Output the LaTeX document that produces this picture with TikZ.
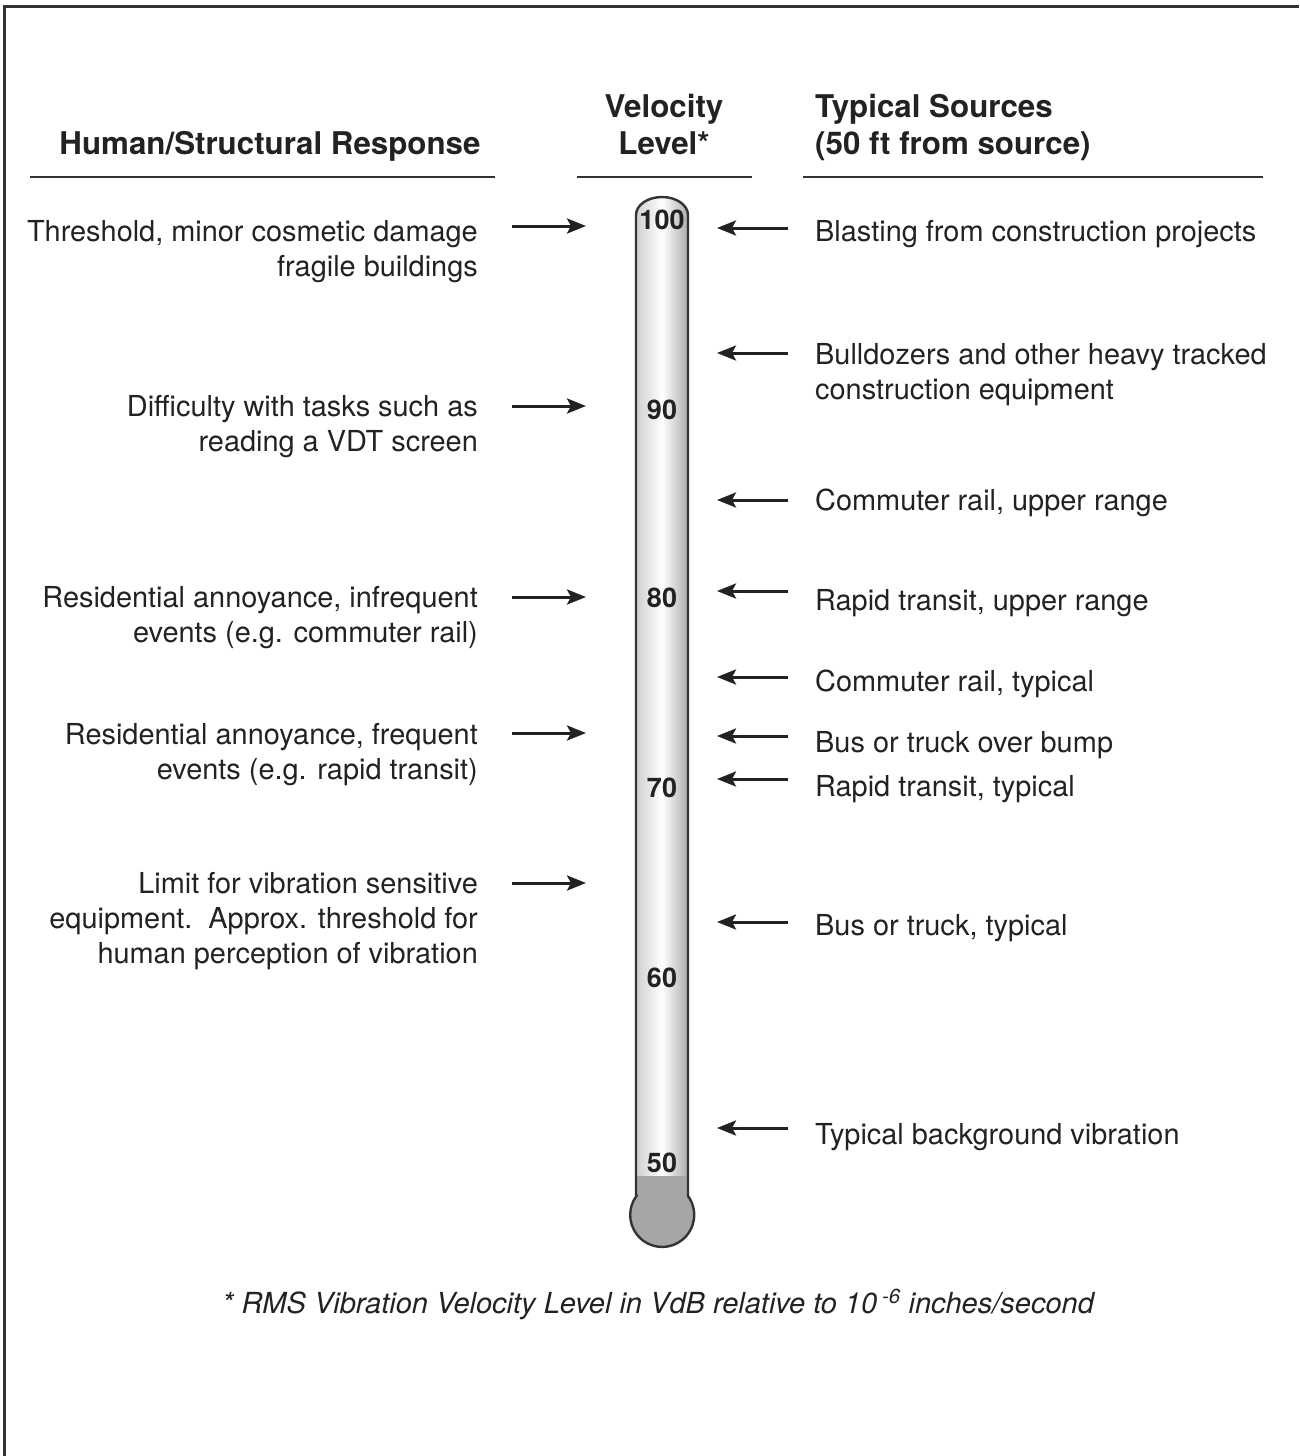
\documentclass[tikz,border=0pt]{standalone}
\usepackage{fontspec}
\setmainfont{TeX Gyre Heros}
\usetikzlibrary{arrows.meta}
\definecolor{ink}{HTML}{222222}
\definecolor{rulecol}{HTML}{333333}
\definecolor{bulbgray}{HTML}{A6A6A6}
\begin{document}
\begin{tikzpicture}[x=1pt,y=1pt,
  lbl/.style={font=\fontsize{28.9}{35}\selectfont, text=ink, inner sep=0pt},
  lefttxt/.style={lbl, align=right, anchor=north east},
  righttxt/.style={lbl, align=left, anchor=north west},
  hdr/.style={font=\fontsize{31.3}{37}\selectfont\bfseries, text=ink, inner sep=0pt},
  tick/.style={font=\fontsize{27}{30}\selectfont\bfseries, text=ink, inner sep=0pt, anchor=base},
  ptr/.style={line width=3pt, draw=ink, -{Stealth[length=19pt,width=15pt,inset=4pt]}},
  hrule/.style={line width=2.5pt, draw=rulecol},
  tubeline/.style={line width=2.4pt, draw=rulecol},
]
\useasboundingbox (0,0) rectangle (1299,-1456);

% outer frame (top and left edges)
\draw[line width=3pt, draw=rulecol] (4,-1456) -- (4,-6) -- (1299,-6);

% column headings
\node[hdr, anchor=base] (hleft) at (270,-154) {Human/Structural Response};
\node[hdr, align=center, anchor=north] (hmid) at (664,-91) {\strut Velocity\\Level*};
\node[hdr, align=left, anchor=north west] (hright) at (815,-91) {\strut Typical Sources\\(50 ft from source)};
\draw[hrule] (30,-177) -- (495,-177);
\draw[hrule] (577,-177) -- (752,-177);
\draw[hrule] (803,-177) -- (1263,-177);

% thermometer
\begin{scope}
  \clip (636,-1196) -- (636,-215) arc[start angle=180,end angle=0,x radius=26,y radius=18]
        -- (688,-1196) arc[start angle=36.2,end angle=-216.2,radius=32] -- cycle;
  \shade[left color=gray!40, right color=gray!70, middle color=white] (634,-190) rectangle (690,-1250);
  \fill[bulbgray] (620,-1176) rectangle (704,-1260);
\end{scope}
\draw[tubeline] (636,-1196) -- (636,-215) arc[start angle=180,end angle=0,x radius=26,y radius=18]
        -- (688,-1196) arc[start angle=36.2,end angle=-216.2,radius=32] -- cycle;

% scale values
\node[tick] (v100) at (662,-229) {100};
\node[tick] (v90) at (662,-419) {90};
\node[tick] (v80) at (662,-607) {80};
\node[tick] (v70) at (662,-797) {70};
\node[tick] (v60) at (662,-987) {60};
\node[tick] (v50) at (662,-1172) {50};

% human / structural responses
\node[lefttxt] (r1) at (478,-216.5) {\strut Threshold, minor cosmetic damage\\fragile buildings};
\node[lefttxt] (r2) at (478,-391.5) {\strut Difficulty with tasks such as\\reading a VDT screen};
\node[lefttxt] (r3) at (478,-582.5) {\strut Residential annoyance, infrequent\\events (e.g. commuter rail)};
\node[lefttxt] (r4) at (478,-719.5) {\strut Residential annoyance, frequent\\events (e.g. rapid transit)};
\node[lefttxt] (r5) at (478,-868.5) {\strut Limit for vibration sensitive\\equipment.\ \ Approx. threshold for\\human perception of vibration};

\coordinate (r1s) at (512,-226); \coordinate (r1e) at (586,-226);
\coordinate (r2s) at (512,-406); \coordinate (r2e) at (586,-406);
\coordinate (r3s) at (512,-597); \coordinate (r3e) at (586,-597);
\coordinate (r4s) at (512,-733); \coordinate (r4e) at (586,-733);
\coordinate (r5s) at (512,-883); \coordinate (r5e) at (586,-883);
\draw[ptr] (r1s) -- (r1e);
\draw[ptr] (r2s) -- (r2e);
\draw[ptr] (r3s) -- (r3e);
\draw[ptr] (r4s) -- (r4e);
\draw[ptr] (r5s) -- (r5e);

% typical sources
\node[righttxt] (s1) at (815,-216.5) {\strut Blasting from construction projects};
\node[righttxt] (s2) at (815,-339.5) {\strut Bulldozers and other heavy tracked\\construction equipment};
\node[righttxt] (s3) at (815,-485.5) {\strut Commuter rail, upper range};
\node[righttxt] (s4) at (815,-585.5) {\strut Rapid transit, upper range};
\node[righttxt] (s5) at (815,-666.5) {\strut Commuter rail, typical};
\node[righttxt] (s6) at (815,-727.5) {\strut Bus or truck over bump};
\node[righttxt] (s7) at (815,-771.5) {\strut Rapid transit, typical};
\node[righttxt] (s8) at (815,-910.5) {\strut Bus or truck, typical};
\node[righttxt] (s9) at (815,-1119.5) {\strut Typical background vibration};

\coordinate (s1s) at (788,-228);  \coordinate (s1e) at (717,-228);
\coordinate (s2s) at (788,-353);  \coordinate (s2e) at (717,-353);
\coordinate (s3s) at (788,-500);  \coordinate (s3e) at (717,-500);
\coordinate (s4s) at (788,-591);  \coordinate (s4e) at (717,-591);
\coordinate (s5s) at (788,-677);  \coordinate (s5e) at (717,-677);
\coordinate (s6s) at (788,-736);  \coordinate (s6e) at (717,-736);
\coordinate (s7s) at (788,-779);  \coordinate (s7e) at (717,-779);
\coordinate (s8s) at (788,-922);  \coordinate (s8e) at (717,-922);
\coordinate (s9s) at (788,-1128); \coordinate (s9e) at (717,-1128);
\draw[ptr] (s1s) -- (s1e);
\draw[ptr] (s2s) -- (s2e);
\draw[ptr] (s3s) -- (s3e);
\draw[ptr] (s4s) -- (s4e);
\draw[ptr] (s5s) -- (s5e);
\draw[ptr] (s6s) -- (s6e);
\draw[ptr] (s7s) -- (s7e);
\draw[ptr] (s8s) -- (s8e);
\draw[ptr] (s9s) -- (s9e);

% footnote
\node[lbl, font=\fontsize{29}{34}\selectfont\itshape, anchor=base] (note) at (658,-1313)
  {* RMS Vibration Velocity Level in VdB relative to 10\,\textsuperscript{-6} inches/second};
\end{tikzpicture}
\end{document}
